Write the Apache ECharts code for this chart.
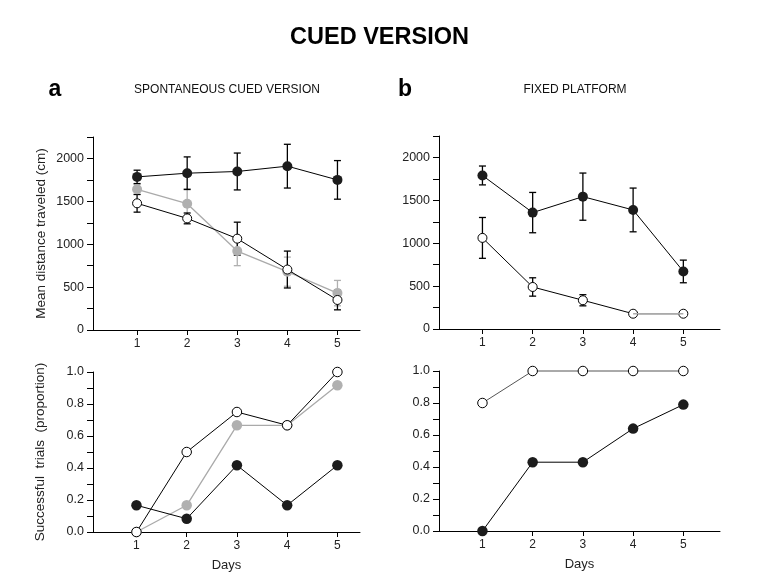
<!DOCTYPE html>
<html>
<head>
<meta charset="utf-8">
<script src="https://cdn.jsdelivr.net/npm/echarts@6/dist/echarts.min.js"></script>
<style>
html,body{margin:0;padding:0;background:#fff;}
#c{width:759px;height:582px;}
</style>
</head>
<body>
<div id="c"></div>
<script>
var days = [1, 2, 3, 4, 5];
var distTicks = [0, 500, 1000, 1500, 2000];
var succTicks = ['0.0', '0.2', '0.4', '0.6', '0.8', '1.0'];

// a: spontaneous cued version - distance (cm)
var spontBlackDist = [1785, 1828, 1848, 1910, 1750];
var spontBlackErr  = [78, 190, 215, 255, 225];
var spontGrayDist  = [1640, 1472, 920, 680, 430];
var spontGrayErr   = [60, 175, 170, 170, 148];
var spontWhiteDist = [1477, 1301, 1065, 705, 350];
var spontWhiteErr  = [103, 63, 192, 215, 115];

// b: fixed platform - distance (cm)
var fixedBlackDist = [1790, 1357, 1543, 1388, 671];
var fixedBlackErr  = [110, 235, 275, 255, 132];
var fixedWhiteDist = [1062, 490, 335, 178, 178];
var fixedWhiteErr  = [238, 107, 65, 0, 0];

// successful trials (proportion)
var spontBlackSucc = [0.167, 0.083, 0.417, 0.167, 0.417];
var spontGraySucc  = [0, 0.167, 0.667, 0.667, 0.917];
var spontWhiteSucc = [0, 0.5, 0.75, 0.667, 1.0];
var fixedBlackSucc = [0, 0.43, 0.43, 0.64, 0.79];
var fixedWhiteSucc = [0.8, 1, 1, 1, 1];

var FONT = 'Liberation Sans, Arial, sans-serif';
var BLACK = '#1c1c1c', GRAY = '#b0b0b0', GRAYLINE = '#aaaaaa';

function pts(arr) { return days.map(function (d, i) { return [d, arr[i]]; }); }
function errPts(arr, err) { return days.map(function (d, i) { return [d, arr[i] - err[i], arr[i] + err[i]]; }); }

function errRender(color) {
  return function (params, api) {
    var x = api.value(0), lo = api.value(1), hi = api.value(2);
    var p1 = api.coord([x, hi]), p2 = api.coord([x, lo]);
    var w = 3.5;
    var st = { stroke: color, lineWidth: 1.3 };
    return {
      type: 'group',
      children: [
        { type: 'line', shape: { x1: p1[0], y1: p1[1], x2: p2[0], y2: p2[1] }, style: st },
        { type: 'line', shape: { x1: p1[0] - w, y1: p1[1], x2: p1[0] + w, y2: p1[1] }, style: st },
        { type: 'line', shape: { x1: p2[0] - w, y1: p2[1], x2: p2[0] + w, y2: p2[1] }, style: st }
      ]
    };
  };
}

var grids = [
  { left: 93, top: 137, width: 267, height: 193 },
  { left: 439, top: 136, width: 281, height: 193 },
  { left: 93, top: 372, width: 267, height: 160 },
  { left: 439, top: 371, width: 281, height: 160 }
];

function xAxis(gi, min, max, named) {
  return {
    type: 'value', gridIndex: gi, min: min, max: max,
    name: named ? 'Days' : '', nameLocation: 'middle', nameGap: 27,
    nameTextStyle: { fontFamily: FONT, fontSize: 13, color: '#222' },
    axisLine: { show: true, onZero: false, lineStyle: { color: '#000', width: 1 } },
    axisTick: { show: true, length: 5, customValues: days, lineStyle: { color: '#000' } },
    axisLabel: { customValues: days, margin: 8, fontFamily: FONT, fontSize: 12, color: '#222' },
    splitLine: { show: false }
  };
}

function yDist(gi, named) {
  return {
    type: 'value', gridIndex: gi, min: 0, max: 2250, interval: 250,
    name: named ? 'Mean distance traveled (cm)' : '', nameLocation: 'middle', nameGap: 45, nameRotate: 90,
    nameTextStyle: { fontFamily: FONT, fontSize: 13.5, color: '#222' },
    axisLine: { show: true, lineStyle: { color: '#000', width: 1 } },
    axisTick: { show: true, length: 6, lineStyle: { color: '#000' } },
    axisLabel: {
      margin: 9, fontFamily: FONT, fontSize: 12.5, color: '#222',
      formatter: function (v) { return distTicks.indexOf(v) >= 0 ? String(v) : ''; }
    },
    splitLine: { show: false }
  };
}

function ySucc(gi, named) {
  return {
    type: 'value', gridIndex: gi, min: 0, max: 1, interval: 0.1,
    name: named ? 'Successful  trials  (proportion)' : '', nameLocation: 'middle', nameGap: 46, nameRotate: 90,
    nameTextStyle: { fontFamily: FONT, fontSize: 13.5, color: '#222' },
    axisLine: { show: true, lineStyle: { color: '#000', width: 1 } },
    axisTick: { show: true, length: 6, lineStyle: { color: '#000' } },
    axisLabel: {
      margin: 9, fontFamily: FONT, fontSize: 12.5, color: '#222',
      formatter: function (v) { var s = v.toFixed(1); return succTicks.indexOf(s) >= 0 ? s : ''; }
    },
    splitLine: { show: false }
  };
}

function lineSeries(gi, data, fill, lineColor, lw, size, z) {
  var open = fill === '#fff';
  return {
    type: 'line', xAxisIndex: gi, yAxisIndex: gi, data: pts(data),
    symbol: 'circle', symbolSize: size, showSymbol: true, clip: false,
    lineStyle: { color: lineColor, width: lw },
    itemStyle: { color: fill, borderColor: open ? '#000' : fill, borderWidth: open ? 1 : 0 },
    z: z, animation: false, silent: true
  };
}

function errSeries(gi, data, err, color) {
  return {
    type: 'custom', xAxisIndex: gi, yAxisIndex: gi, data: errPts(data, err),
    renderItem: errRender(color), z: 1, animation: false, silent: true, clip: false
  };
}

var option = {
  backgroundColor: '#fff',
  animation: false,
  grid: grids,
  xAxis: [xAxis(0, 0.12, 5.45, false), xAxis(1, 0.135, 5.73, false), xAxis(2, 0.135, 5.45, true), xAxis(3, 0.135, 5.73, true)],
  yAxis: [yDist(0, true), yDist(1, false), ySucc(2, true), ySucc(3, false)],
  graphic: [
    { type: 'text', left: 'center', top: 26, style: { text: 'CUED VERSION', font: 'bold 23.5px ' + FONT, fill: '#000' } },
    { type: 'text', x: 55, y: 90, style: { text: 'a', font: 'bold 23px ' + FONT, fill: '#000', align: 'center', verticalAlign: 'middle' } },
    { type: 'text', x: 405, y: 90, style: { text: 'b', font: 'bold 23px ' + FONT, fill: '#000', align: 'center', verticalAlign: 'middle' } },
    { type: 'text', x: 227, y: 90, style: { text: 'SPONTANEOUS CUED VERSION', font: '12px ' + FONT, fill: '#111', align: 'center', verticalAlign: 'middle' } },
    { type: 'text', x: 575, y: 90, style: { text: 'FIXED PLATFORM', font: '12px ' + FONT, fill: '#111', align: 'center', verticalAlign: 'middle' } }
  ],
  series: [
    // panel a, distance
    errSeries(0, spontGrayDist, spontGrayErr, GRAY),
    errSeries(0, spontWhiteDist, spontWhiteErr, '#000'),
    errSeries(0, spontBlackDist, spontBlackErr, '#000'),
    lineSeries(0, spontGrayDist, GRAY, GRAYLINE, 1.3, 10, 3),
    lineSeries(0, spontWhiteDist, '#fff', '#000', 1, 9, 4),
    lineSeries(0, spontBlackDist, BLACK, '#000', 1, 10, 5),
    // panel b, distance
    errSeries(1, fixedWhiteDist, fixedWhiteErr, '#000'),
    errSeries(1, fixedBlackDist, fixedBlackErr, '#000'),
    lineSeries(1, fixedWhiteDist, '#fff', '#000', 1, 9, 4),
    {
      type: 'line', xAxisIndex: 1, yAxisIndex: 1,
      data: pts(fixedWhiteDist.map(function (v, i) { return i >= 3 ? v : null; })),
      showSymbol: false, lineStyle: { color: GRAYLINE, width: 1.6 }, z: 4.5, animation: false, silent: true
    },
    lineSeries(1, fixedBlackDist, BLACK, '#000', 1, 10, 5),
    // panel a, success
    lineSeries(2, spontGraySucc, GRAY, GRAYLINE, 1.3, 10.5, 3),
    lineSeries(2, spontWhiteSucc, '#fff', '#000', 1, 9.5, 4),
    lineSeries(2, spontBlackSucc, BLACK, '#000', 1, 10.5, 5),
    // panel b, success
    lineSeries(3, fixedWhiteSucc, '#fff', '#555', 1, 9.5, 4),
    lineSeries(3, fixedBlackSucc, BLACK, '#000', 1, 10.5, 5)
  ]
};

var chart = echarts.init(document.getElementById('c'), null, { renderer: 'canvas' });
chart.setOption(option);
</script>
</body>
</html>
